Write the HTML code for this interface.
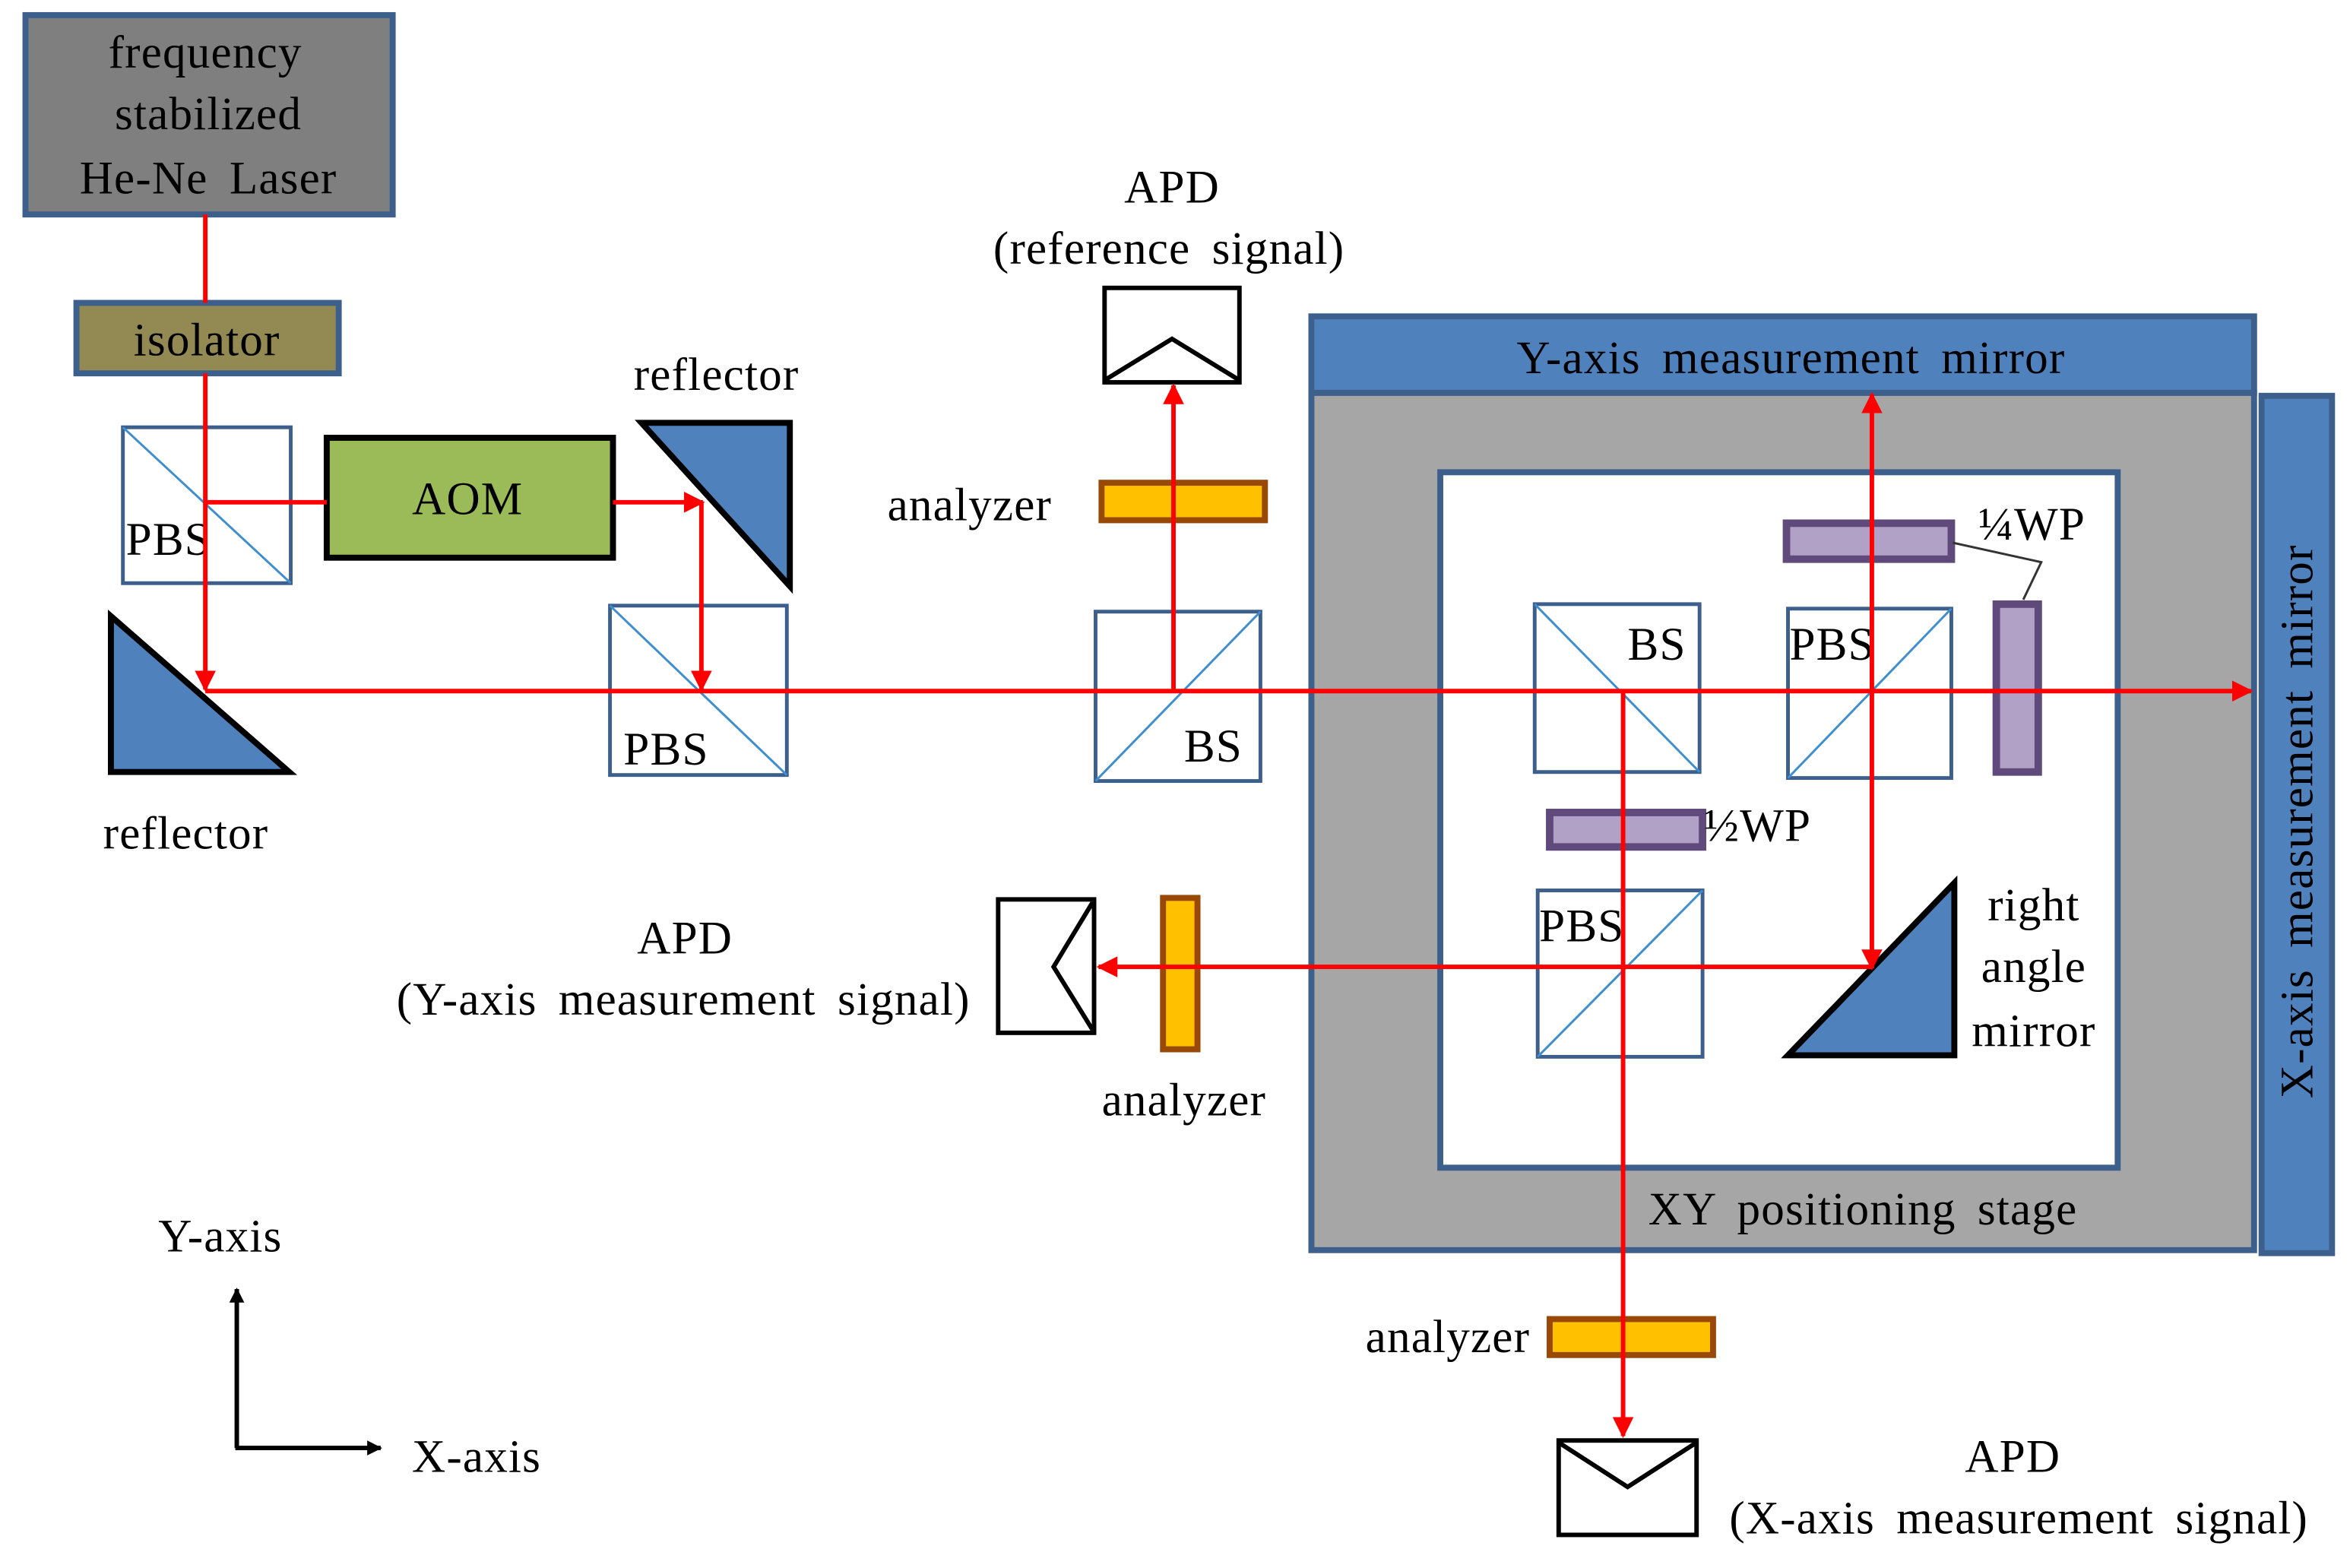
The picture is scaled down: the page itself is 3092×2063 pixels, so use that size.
<!DOCTYPE html>
<html><head><meta charset="utf-8"><style>
html,body{margin:0;padding:0;background:#fff;}
svg{display:block;}
svg text{font-family:"Liberation Serif","Times New Roman",serif;font-size:31px;fill:#000;letter-spacing:0.6px;word-spacing:6px;}
</style></head><body>
<svg width="3092" height="2063" viewBox="0 0 1568 1046" xmlns="http://www.w3.org/2000/svg" font-family="Liberation Serif, serif">
<defs>
<marker id="ab" viewBox="0 0 10 10" refX="9" refY="5" markerWidth="10" markerHeight="10" orient="auto" markerUnits="userSpaceOnUse">
<path d="M0,0 L10,5 L0,10 z" fill="#000"/></marker>
<marker id="arr" viewBox="0 0 10 10" refX="9" refY="5" markerWidth="14" markerHeight="14" orient="auto" markerUnits="userSpaceOnUse">
<path d="M0,0 L10,5 L0,10 z" fill="#ff0000"/></marker>
</defs>

<rect x="875" y="262" width="629" height="572" fill="#a6a6a6" stroke="#3d5f8c" stroke-width="4"/>
<rect x="875" y="211" width="629" height="51" fill="#4f81bd" stroke="#3d5f8c" stroke-width="4"/>
<text x="1195" y="249" text-anchor="middle">Y-axis measurement  mirror</text>
<rect x="1509" y="264" width="47" height="572" fill="#4f81bd" stroke="#3d5f8c" stroke-width="4"/>
<text transform="translate(1543,548) rotate(-90)" text-anchor="middle">X-axis measurement  mirror</text>
<rect x="961" y="315" width="452" height="464" fill="#fff" stroke="#3d5f8c" stroke-width="4"/>
<text x="1243" y="817" text-anchor="middle">XY positioning  stage</text>

<rect x="17" y="10" width="245" height="133" fill="#7f7f7f" stroke="#3d5f8c" stroke-width="4"/>
<text x="137" y="45" text-anchor="middle">frequency</text>
<text x="139" y="86" text-anchor="middle">stabilized</text>
<text x="139" y="129" text-anchor="middle">He-Ne Laser</text>
<rect x="51" y="202" width="175" height="47" fill="#938953" stroke="#3d5f8c" stroke-width="4"/>
<text x="138" y="237" text-anchor="middle">isolator</text>

<g fill="#fff" stroke="#3d5f8c" stroke-width="2.5">
<rect x="82" y="285" width="112" height="104"/>
<rect x="407" y="404" width="118" height="113"/>
<rect x="731" y="408" width="110" height="113"/>
<rect x="1024" y="403" width="110" height="112"/>
<rect x="1193" y="406" width="109" height="113"/>
<rect x="1026" y="594" width="110" height="111"/>
</g>
<g stroke="#3e8ed0" stroke-width="1.5">
<line x1="82" y1="285" x2="194" y2="389"/>
<line x1="407" y1="404" x2="525" y2="517"/>
<line x1="731" y1="521" x2="841" y2="408"/>
<line x1="1024" y1="403" x2="1134" y2="515"/>
<line x1="1193" y1="519" x2="1302" y2="406"/>
<line x1="1026" y1="705" x2="1136" y2="594"/>
</g>
<text x="84" y="370">PBS</text>
<text x="416" y="510">PBS</text>
<text x="790" y="508">BS</text>
<text x="1086" y="440">BS</text>
<text x="1194" y="440">PBS</text>
<text x="1027" y="628">PBS</text>

<rect x="218" y="292" width="191" height="80" fill="#9bbb59" stroke="#000" stroke-width="4"/>
<text x="312" y="343" text-anchor="middle">AOM</text>

<g fill="#4f81bd" stroke="#000" stroke-width="4">
<polygon points="428,282 527,282 527,391"/>
<polygon points="74,411 74,515 193,515"/>
<polygon points="1193,704 1304,589 1304,704"/>
</g>
<text x="478" y="260" text-anchor="middle">reflector</text>
<text x="124" y="566" text-anchor="middle">reflector</text>
<text x="1357" y="614" text-anchor="middle">right</text>
<text x="1357" y="655" text-anchor="middle">angle</text>
<text x="1357" y="698" text-anchor="middle">mirror</text>

<g fill="#b2a1c7" stroke="#604a7b" stroke-width="5">
<rect x="1192" y="349" width="110" height="24"/>
<rect x="1332" y="403" width="28" height="112"/>
<rect x="1034" y="542" width="102" height="23"/>
</g>
<polyline points="1303,362 1362,375 1350,400" fill="none" stroke="#333" stroke-width="1.5"/>
<text x="1320" y="360">¼WP</text>
<text x="1137" y="561">½WP</text>

<g fill="#ffc000" stroke="#984807" stroke-width="4">
<rect x="735" y="322" width="109" height="25"/>
<rect x="776" y="599" width="23" height="101"/>
<rect x="1034" y="880" width="109" height="24"/>
</g>
<text x="647" y="347" text-anchor="middle">analyzer</text>
<text x="790" y="744" text-anchor="middle">analyzer</text>
<text x="966" y="902" text-anchor="middle">analyzer</text>

<g fill="#fff" stroke="#000" stroke-width="3">
<rect x="737" y="192" width="90" height="63"/>
<rect x="666" y="600" width="64" height="89"/>
<rect x="1040" y="961" width="92" height="63"/>
</g>
<g fill="none" stroke="#000" stroke-width="3">
<polyline points="738,253 782,226 826,253"/>
<polyline points="729,602 703,645 729,687"/>
<polyline points="1041,963 1086,992 1131,963"/>
</g>
<text x="782" y="135" text-anchor="middle">APD</text>
<text x="780" y="176" text-anchor="middle">(reference signal)</text>
<text x="457" y="636" text-anchor="middle">APD</text>
<text x="456" y="677" text-anchor="middle">(Y-axis  measurement  signal)</text>
<text x="1343" y="982" text-anchor="middle">APD</text>
<text x="1347" y="1023" text-anchor="middle">(X-axis measurement signal)</text>

<g stroke="#ff0000" stroke-width="3" fill="none">
<line x1="137" y1="143" x2="137" y2="202"/>
<line x1="137" y1="249" x2="137" y2="460" marker-end="url(#arr)"/>
<line x1="137" y1="335" x2="218" y2="335"/>
<line x1="409" y1="335" x2="469" y2="335" marker-end="url(#arr)"/>
<line x1="468" y1="335" x2="468" y2="460" marker-end="url(#arr)"/>
<line x1="137" y1="461" x2="1502" y2="461" marker-end="url(#arr)"/>
<line x1="783" y1="461" x2="783" y2="257" marker-end="url(#arr)"/>
<line x1="1249" y1="461" x2="1249" y2="263" marker-end="url(#arr)"/>
<line x1="1249" y1="461" x2="1249" y2="646" marker-end="url(#arr)"/>
<line x1="1249" y1="645" x2="733" y2="645" marker-end="url(#arr)"/>
<line x1="1083" y1="461" x2="1083" y2="958" marker-end="url(#arr)"/>
</g>

<g stroke="#000" stroke-width="3" fill="none">
<line x1="158" y1="966" x2="158" y2="860" marker-end="url(#ab)"/>
<line x1="157" y1="966" x2="254" y2="966" marker-end="url(#ab)"/>
</g>
<text x="147" y="835" text-anchor="middle">Y-axis</text>
<text x="318" y="982" text-anchor="middle">X-axis</text>
</svg>
</body></html>
